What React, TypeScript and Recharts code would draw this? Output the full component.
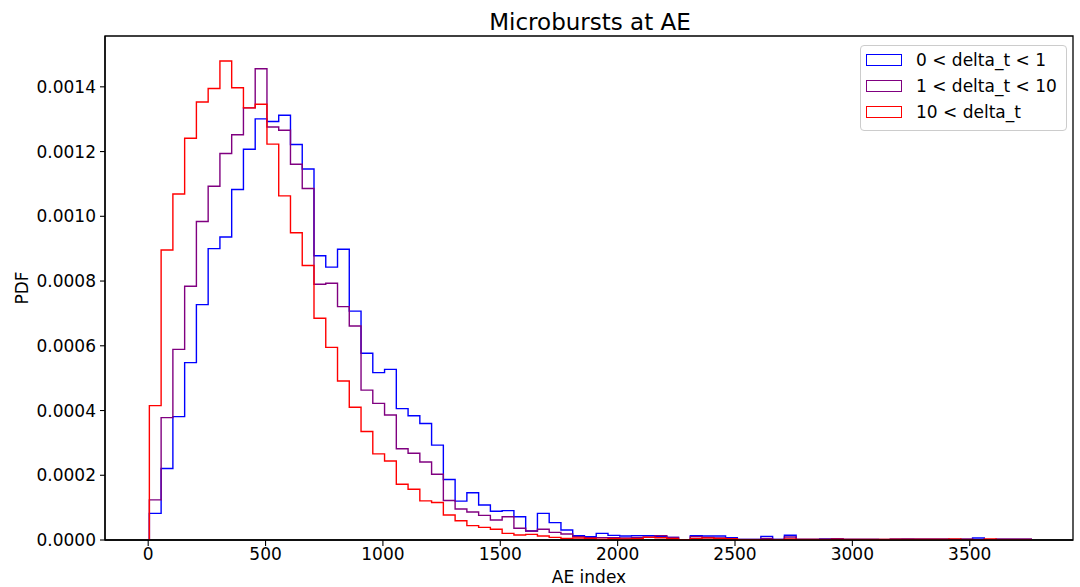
import React from 'react';
import {
  LineChart,
  Line,
  XAxis,
  YAxis,
  Legend,
  ReferenceArea,
} from 'recharts';

// Histogram bins (AE index), 75 bins
const binStart = 5;
const binWidth = 50.1;
const binCount = 75;

const seriesNames = ['0 < delta_t < 1', '1 < delta_t < 10', '10 < delta_t'];
const seriesColors = ['#0000ff', '#800080', '#ff0000'];

const pdfShort = [
  0.0000824, 0.000221, 0.000381, 0.000548, 0.000727, 0.0009, 0.000936, 0.001083, 0.001207, 0.001301,
  0.001293, 0.001312, 0.001222, 0.001146, 0.000878, 0.000843, 0.000898, 0.000707, 0.000577, 0.000517,
  0.000527, 0.000406, 0.000384, 0.00036, 0.000293, 0.000187, 0.00012, 0.000146, 0.000108, 0.0000886,
  0.0000906, 0.000072, 0.0000278, 0.0000824, 0.0000536, 0.0000309, 0.0000134, 0.0000103, 0.0000206, 0.0000144,
  0.0000124, 0.0000134, 0.0000134, 0.0000113, 0.0000082, 0.000001, 0.0000134, 0.0000124, 0.0000124, 0.000007,
  0.000002, 0.000002, 0.0000113, 0.000002, 0.0000145, 0.000002, 0.000002, 0.000003, 0.000002, 0.000002,
  0.000002, 0.000002, 0, 0, 0.000002, 0, 0, 0, 0.000002, 0,
  0.000006, 0, 0, 0, 0,
];

const pdfMid = [
  0.000124, 0.000378, 0.000589, 0.000784, 0.000984, 0.001093, 0.001194, 0.001252, 0.001335, 0.001456,
  0.001276, 0.001266, 0.001161, 0.001086, 0.00079, 0.000793, 0.000721, 0.000661, 0.000463, 0.000422,
  0.000386, 0.000282, 0.000268, 0.000241, 0.000203, 0.000122, 0.0000957, 0.0000865, 0.0000762, 0.0000618,
  0.000072, 0.0000361, 0.0000278, 0.000033, 0.0000237, 0.0000185, 0.0000103, 0.0000072, 0.0000072, 0.0000072,
  0.0000062, 0.0000082, 0.0000093, 0.0000134, 0.0000082, 0.000001, 0.0000103, 0.0000082, 0.0000062, 0.000004,
  0.000002, 0.000002, 0.000005, 0.000002, 0.0000093, 0.000002, 0.000002, 0.000002, 0.000004, 0.000002,
  0.000002, 0.000002, 0.000002, 0.000003, 0.000003, 0.000003, 0.000003, 0.000003, 0, 0.000003,
  0, 0, 0.000003, 0.000003, 0.000003,
];

const pdfLong = [
  0.000415, 0.000896, 0.001069, 0.001241, 0.001353, 0.001395, 0.00148, 0.001397, 0.001335, 0.001346,
  0.001223, 0.001063, 0.000949, 0.000848, 0.000685, 0.000595, 0.000491, 0.00041, 0.000335, 0.000266,
  0.000244, 0.000172, 0.000157, 0.000121, 0.000116, 0.0000772, 0.0000597, 0.0000443, 0.0000391, 0.000033,
  0.0000206, 0.0000154, 0.0000175, 0.0000124, 0.0000082, 0.0000051, 0.000006, 0.0000051, 0.0000021, 0.000004,
  0.000003, 0.000004, 0.0000082, 0.000007, 0.000004, 0.000001, 0.000005, 0.000006, 0.000005, 0.000004,
  0.000001, 0.000001, 0.000001, 0.000001, 0.000003, 0.000002, 0.000002, 0.000002, 0.000002, 0.000002,
  0.000002, 0.000002, 0.000002, 0.000002, 0.000002, 0.000002, 0.000002, 0.000002, 0.000003, 0,
  0, 0.000003, 0, 0, 0,
];

const xTicks = [0, 500, 1000, 1500, 2000, 2500, 3000, 3500];
const yTicks = [0, 0.0002, 0.0004, 0.0006, 0.0008, 0.001, 0.0012, 0.0014];
const xDomain: [number, number] = [-184, 3940];
const yDomain: [number, number] = [0, 0.001557];

// Build step outline rows: (edge0, 0), (edge_i, v_i)..., (edge_N, 0)
const rows: Array<Record<string, number>> = [
  { x: binStart, s0: 0, s1: 0, s2: 0 },
];
for (let i = 0; i < binCount; i++) {
  rows.push({ x: binStart + i * binWidth, s0: pdfShort[i], s1: pdfMid[i], s2: pdfLong[i] });
}
rows.push({ x: binStart + binCount * binWidth, s0: 0, s1: 0, s2: 0 });

const FONT = "'DejaVu Sans', sans-serif";

const LegendBox = (props: any) => {
  const payload = props.payload || [];
  return (
    <div
      style={{
        border: '1px solid #cccccc',
        borderRadius: 4,
        background: '#fff',
        padding: '1px 0 4px 5px',
        fontFamily: FONT,
        fontSize: 17,
        color: '#000',
        boxSizing: 'border-box',
        width: 207,
      }}
    >
      {payload.map((p: any, i: number) => (
        <div key={i} style={{ display: 'flex', alignItems: 'center', height: 26.2 }}>
          <span
            style={{
              display: 'inline-block',
              width: 36,
              height: 12,
              boxSizing: 'border-box',
              border: `1.3px solid ${p.color}`,
              marginRight: 14,
            }}
          />
          <span style={{ lineHeight: '20px' }}>{p.value}</span>
        </div>
      ))}
    </div>
  );
};

export default function App() {
  return (
    <div style={{ position: 'absolute', left: 0, top: 0, width: 1080, height: 587, background: '#fff' }}>
      <LineChart
        width={1080}
        height={587}
        data={rows}
        margin={{ top: 36, right: 7, bottom: 0, left: 0 }}
      >
        <XAxis
          dataKey="x"
          type="number"
          domain={xDomain}
          ticks={xTicks}
          allowDataOverflow
          height={47}
          tickSize={6}
          tickMargin={2}
          axisLine={{ stroke: '#000', strokeWidth: 1.3 }}
          tickLine={{ stroke: '#000', strokeWidth: 1.1 }}
          tick={{ fill: '#000', fontSize: 17, fontFamily: FONT }}
        />
        <YAxis
          type="number"
          domain={yDomain}
          ticks={yTicks}
          allowDataOverflow
          width={105}
          tickSize={5}
          tickMargin={4}
          tickFormatter={(v: number) => v.toFixed(4)}
          axisLine={{ stroke: '#000', strokeWidth: 1.3 }}
          tickLine={{ stroke: '#000', strokeWidth: 1.1 }}
          tick={{ fill: '#000', fontSize: 17, fontFamily: FONT }}
        />
        <ReferenceArea
          x1={xDomain[0]}
          x2={xDomain[1]}
          y1={yDomain[0]}
          y2={yDomain[1]}
          fill="none"
          stroke="#000"
          strokeWidth={1.3}
          ifOverflow="visible"
        />
        <Line
          dataKey="s0"
          name={seriesNames[0]}
          type="stepAfter"
          stroke={seriesColors[0]}
          strokeWidth={1.4}
          dot={false}
          activeDot={false}
          isAnimationActive={false}
        />
        <Line
          dataKey="s1"
          name={seriesNames[1]}
          type="stepAfter"
          stroke={seriesColors[1]}
          strokeWidth={1.4}
          dot={false}
          activeDot={false}
          isAnimationActive={false}
        />
        <Line
          dataKey="s2"
          name={seriesNames[2]}
          type="stepAfter"
          stroke={seriesColors[2]}
          strokeWidth={1.4}
          dot={false}
          activeDot={false}
          isAnimationActive={false}
        />
        <Legend
          layout="vertical"
          align="center"
          verticalAlign="middle"
          content={<LegendBox />}
          wrapperStyle={{ position: 'absolute', left: 860, top: 45, width: 207 }}
        />
      </LineChart>
      <svg
        width={1080}
        height={587}
        style={{ position: 'absolute', left: 0, top: 0, pointerEvents: 'none' }}
      >
        <text x={590} y={30} textAnchor="middle" fontFamily={FONT} fontSize={23} fill="#000">
          Microbursts at AE
        </text>
        <text x={589} y={583} textAnchor="middle" fontFamily={FONT} fontSize={17} fill="#000">
          AE index
        </text>
        <text
          x={28}
          y={288}
          textAnchor="middle"
          fontFamily={FONT}
          fontSize={17}
          fill="#000"
          transform="rotate(-90 28 288)"
        >
          PDF
        </text>
      </svg>
    </div>
  );
}
